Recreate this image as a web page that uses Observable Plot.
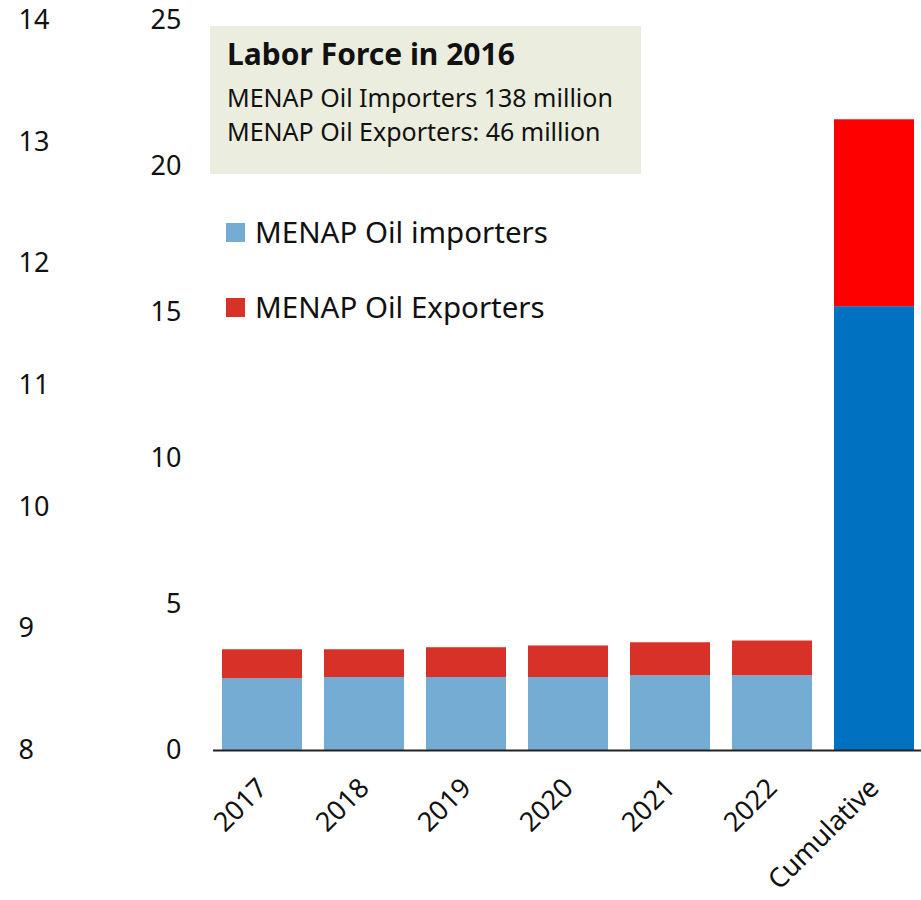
<!DOCTYPE html>
<html>
<head>
<meta charset="utf-8">
<script src="https://cdn.jsdelivr.net/npm/d3@7"></script>
<script src="https://cdn.jsdelivr.net/npm/@observablehq/plot@0.6"></script>
<style>
  html, body { margin: 0; padding: 0; background: #fff; }
  #wrap { position: relative; width: 921px; height: 900px; font-family: "Noto Sans", sans-serif; color: #111; }
  #box { position: absolute; left: 210px; top: 26px; width: 431px; height: 148px; background: #EBEEDE; }
  #box .t { position: absolute; left: 17px; top: 8px; font-weight: bold; font-size: 30px; line-height: 40px; white-space: nowrap; }
  #box .l { position: absolute; left: 17px; font-size: 25px; line-height: 30px; white-space: nowrap; }
  .leg { position: absolute; left: 226px; font-size: 29.5px; line-height: 38px; white-space: nowrap; }
  .leg span.sw { position: absolute; left: 0; top: 10px; width: 19px; height: 19px; }
  .leg span.tx { position: absolute; left: 29px; top: 0; }
</style>
</head>
<body>
<div id="wrap">
  <div id="chart"></div>
</div>
<script>
const categories = ["2017", "2018", "2019", "2020", "2021", "2022", "Cumulative"];
const importers = [2.46, 2.50, 2.50, 2.50, 2.56, 2.56, 15.2];
const exporters = [0.99, 0.95, 1.02, 1.08, 1.13, 1.19, 6.4];
const seriesNames = ["MENAP Oil importers", "MENAP Oil Exporters"];
const yTicks = [0, 5, 10, 15, 20, 25];
const leftTicks = [8, 9, 10, 11, 12, 13, 14];
const boxTitle = "Labor Force in 2016";
const boxLines = ["MENAP Oil Importers 138 million", "MENAP Oil Exporters: 46 million"];

const annualColors = ["#75ACD3", "#D83127"];
const cumulativeColors = ["#0070C0", "#FF0000"];

const rows = [];
categories.forEach((c, i) => {
  const cols = c === "Cumulative" ? cumulativeColors : annualColors;
  rows.push({category: c, series: seriesNames[0], value: importers[i], color: cols[0]});
  rows.push({category: c, series: seriesNames[1], value: exporters[i], color: cols[1]});
});

const toMain = v => (v - 8) * 25 / 6;

const chart = Plot.plot({
  width: 921,
  height: 900,
  marginLeft: 213,
  marginRight: 0,
  marginTop: 20,
  marginBottom: 150,
  style: {fontFamily: "Noto Sans, sans-serif", fontSize: "27px", color: "#111", background: "transparent"},
  x: {domain: categories, range: [211, 925], paddingInner: 0.22, paddingOuter: 0.11, label: null},
  y: {domain: [0, 25], label: null},
  color: {type: "identity"},
  marks: [
    Plot.axisY(yTicks, {tickSize: 0, tickPadding: 32, fontSize: 27, label: null}),
    Plot.axisY(leftTicks.map(toMain), {tickSize: 0, tickPadding: 0, textAnchor: "start", dx: -195, fontSize: 27, label: null,
      tickFormat: d => String(Math.round(d * 6 / 25 + 8))}),
    Plot.barY(rows, Plot.stackY({x: "category", y: "value", fill: "color"})),
    Plot.ruleY([0], {stroke: "#222", strokeWidth: 2}),
    Plot.axisX({tickSize: 0, tickPadding: 33, tickRotate: -45, fontSize: 27, label: null})
  ]
});
document.getElementById("chart").appendChild(chart);

const wrap = document.getElementById("wrap");
const box = document.createElement("div");
box.id = "box";
const t = document.createElement("div");
t.className = "t"; t.textContent = boxTitle; box.appendChild(t);
boxLines.forEach((s, i) => {
  const d = document.createElement("div");
  d.className = "l"; d.style.top = (56 + i * 34) + "px"; d.textContent = s; box.appendChild(d);
});
wrap.appendChild(box);

seriesNames.forEach((s, i) => {
  const d = document.createElement("div");
  d.className = "leg"; d.style.top = (213 + i * 75) + "px";
  const sw = document.createElement("span"); sw.className = "sw"; sw.style.background = annualColors[i];
  const tx = document.createElement("span"); tx.className = "tx"; tx.textContent = s;
  d.appendChild(sw); d.appendChild(tx);
  wrap.appendChild(d);
});
</script>
</body>
</html>
